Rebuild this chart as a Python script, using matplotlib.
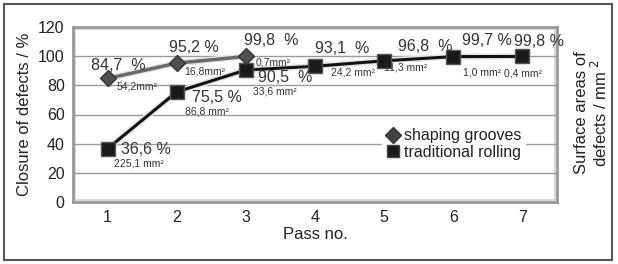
import matplotlib
matplotlib.use("Agg")
import matplotlib.pyplot as plt
import matplotlib.patheffects as pe
from matplotlib.patches import Rectangle
from matplotlib.lines import Line2D

plt.rcParams['font.family'] = ['Liberation Sans', 'DejaVu Sans']

passes = [1, 2, 3, 4, 5, 6, 7]
shaping_pass = [1, 2, 3]
shaping_closure = [84.7, 95.2, 99.8]
shaping_area = ["54,2mm²", "16,8mm²", "0,7mm²"]
trad_closure = [36.6, 75.5, 90.5, 93.1, 96.8, 99.7, 99.8]
trad_area = ["225,1 mm²", "86,8 mm²", "33,6 mm²", "24,2 mm²", "11,3 mm²", "1,0 mm²", "0,4 mm²"]
shaping_pct = ["84,7  %", "95,2 %", "99,8  %"]
trad_pct = ["36,6 %", "75,5 %", "90,5  %", "93,1  %", "96,8  %", "99,7 %", "99,8 %"]
yticks = [0, 20, 40, 60, 80, 100, 120]

fig = plt.figure(figsize=(6.18, 2.64), dpi=100)
W, H = 618, 264
ax = fig.add_axes([73 / W, 1 - 202 / H, (557 - 73) / W, (202 - 27) / H])

ax.set_xlim(0.5, 7.5)
ax.set_ylim(0, 120)
ax.set_yticks(yticks)
ax.set_xticks(passes)
ax.tick_params(length=0, labelsize=11.5, colors="#222222", pad=6)
ax.grid(axis="y", color="#9a9a9a", lw=1)
ax.set_axisbelow(True)
for s in ax.spines.values():
    s.set_color("#999999")
    s.set_linewidth(2)
# inner light frame
ax.add_patch(Rectangle((0.004, 0.01), 0.992, 0.98, transform=ax.transAxes,
                       fill=False, edgecolor="#d8d8d8", lw=1.5, zorder=0.5))

shadow = [pe.Stroke(linewidth=4.5, foreground="#e6e6e6"), pe.Normal()]
ax.plot(passes, trad_closure, color="#111111", lw=2.2, zorder=3, path_effects=shadow)
ax.plot(passes, trad_closure, ls="none", marker="s", ms=10.5,
        mfc="#1a1a1a", mec="#555555", mew=1, zorder=3.5)
ax.plot(shaping_pass, shaping_closure, color="#6a6a6a", lw=2.5, zorder=4, path_effects=shadow)
ax.plot(shaping_pass, shaping_closure, ls="none", marker="D", ms=8.5,
        mfc="#505050", mec="#333333", mew=1, zorder=4.5)

big = 11.5
small = 7.5
sh_pct_off = [(-17, 13), (-8, 16), (-2, 16)]
sh_area_off = [(9, -8), (7, -8), (10, -6)]
for x, y, t, o in zip(shaping_pass, shaping_closure, shaping_pct, sh_pct_off):
    ax.annotate(t, (x, y), xytext=o, textcoords="offset pixels", fontsize=big,
                color="#333333", ha="left", va="center", zorder=5)
for x, y, t, o in zip(shaping_pass, shaping_closure, shaping_area, sh_area_off):
    ax.annotate(t, (x, y), xytext=o, textcoords="offset pixels", fontsize=small,
                color="#333333", ha="left", va="center", zorder=5)

tr_pct_off = [(13, -1), (15, -6), (12, -7), (0, 18), (14, 14), (9, 16), (-8, 15)]
tr_area_off = [(6, -15), (8, -20), (7, -21), (16, -6), (0, -7), (10, -16), (-18, -17)]
for x, y, t, o in zip(passes, trad_closure, trad_pct, tr_pct_off):
    ax.annotate(t, (x, y), xytext=o, textcoords="offset pixels", fontsize=big,
                color="#333333", ha="left", va="center", zorder=5)
for x, y, t, o in zip(passes, trad_closure, trad_area, tr_area_off):
    ax.annotate(t, (x, y), xytext=o, textcoords="offset pixels", fontsize=small,
                color="#333333", ha="left", va="center", zorder=5)

h1 = Line2D([], [], ls="none", marker="D", ms=8, mfc="#444444", mec="#333333")
h2 = Line2D([], [], ls="none", marker="s", ms=8, mfc="#1a1a1a", mec="#444444")
leg = ax.legend([h1, h2], ["shaping grooves", "traditional rolling"],
                loc="upper left", bbox_to_anchor=((374 - 73) / (557 - 73), 1 - (117 - 27) / 175),
                frameon=True, fontsize=11.5, handletextpad=0.2, borderpad=0.2,
                labelspacing=0.1, handlelength=1.0, edgecolor="white", framealpha=1,
                fancybox=False)
for t in leg.get_texts():
    t.set_color("#222222")

ax.set_ylabel("Closure of defects / %", fontsize=12, color="#222222", labelpad=4)
ax.set_xlabel("Pass no.", fontsize=12, color="#222222", labelpad=1)

fig.text(592 / W, 1 - 113 / H, "Surface areas of\ndefects / mm $^2$", rotation=90,
         ha="center", va="center", fontsize=12, color="#222222", linespacing=1.0)

fig.patches.append(Rectangle((4 / W, 4 / H), (612 - 4) / W, (260 - 4) / H,
                             transform=fig.transFigure, fill=False,
                             edgecolor="#555555", lw=1.5))

fig.savefig("out.png", dpi=100)
